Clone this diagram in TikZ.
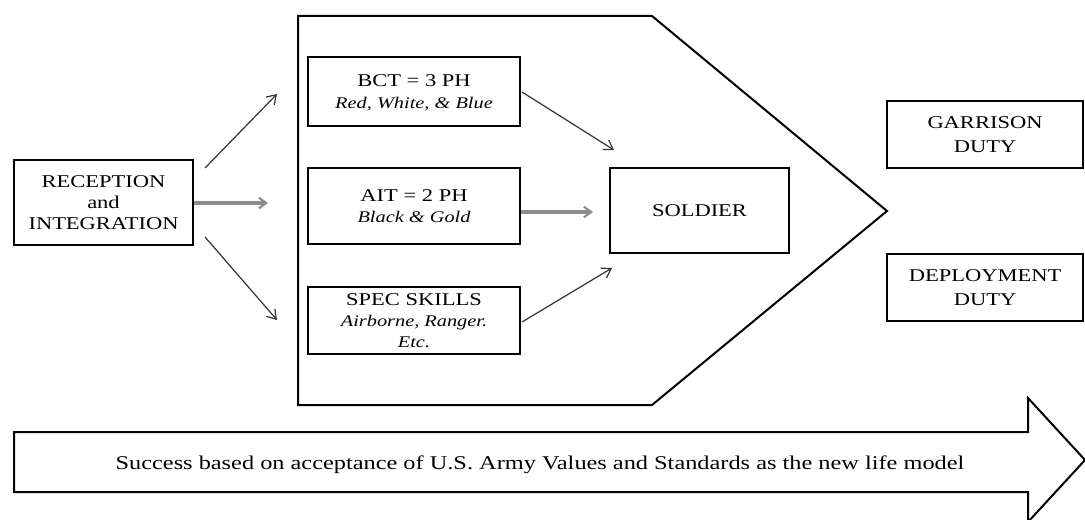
\documentclass[tikz,border=0pt]{standalone}
\usepackage{fontspec}
\setmainfont{Liberation Serif}[FakeStretch=1.25]
\usetikzlibrary{arrows.meta}
\begin{document}
\begin{tikzpicture}[x=0.75pt,y=-0.75pt,
  box/.style={draw=black,line width=1.5pt,fill=white,rectangle,align=center,inner sep=0pt,
              font=\fontsize{13.5}{16}\selectfont},
  thinarrow/.style={draw=black!80,line width=0.9pt,-{Straight Barb[length=6.5pt,width=8.5pt,line width=0.9pt]}},
  grayarrow/.style={draw=black!45,line width=2.4pt,-{Straight Barb[length=5.5pt,width=8pt,line width=1.6pt]}},
  outline/.style={draw=black,line width=1.5pt,line join=miter}
  ]
\useasboundingbox (0,0) rectangle (1085,520);
\clip (0,0) rectangle (1085,520);

% big pentagon
\draw[outline] (298,16) -- (652,16) -- (887,211) -- (652,405) -- (298,405) -- cycle;

% bottom big arrow
\draw[outline] (14,432) -- (1028,432) -- (1028,398) -- (1085,460) -- (1028,522) -- (1028,492) -- (14,492) -- cycle;
\node[font=\fontsize{14.6}{16}\selectfont,inner sep=0pt] (life) at (540,465)
  {Success based on acceptance of U.S. Army Values and Standards as the new life model};

% boxes
\node[box,minimum width=134.25pt,minimum height=63.75pt] (rec) at (103.5,202.5)
  {RECEPTION\\and\\INTEGRATION};
\node[box,minimum width=159pt,minimum height=51.75pt,text depth=-4pt] (bct) at (414,91.5)
  {BCT = 3 PH\\{\fontsize{12.2}{15.5}\selectfont\itshape Red, White, \& Blue}};
\node[box,minimum width=159pt,minimum height=57pt] (ait) at (414,206)
  {AIT = 2 PH\\{\fontsize{12.2}{15.5}\selectfont\itshape Black \& Gold}};
\node[box,minimum width=159pt,minimum height=50.25pt] (spec) at (414,320.5)
  {SPEC SKILLS\\{\fontsize{12.2}{15.5}\selectfont\itshape Airborne, Ranger.}\\{\fontsize{12.2}{15.5}\selectfont\itshape Etc.}};
\node[box,minimum width=134.25pt,minimum height=63.75pt] (sold) at (699.5,210.5) {SOLDIER};
\node[box,minimum width=147pt,minimum height=50.25pt,font=\fontsize{13.5}{18}\selectfont] (gar) at (985,134.5)
  {GARRISON\\DUTY};
\node[box,minimum width=147pt,minimum height=50.25pt,font=\fontsize{13.5}{17.5}\selectfont] (dep) at (985,287.5)
  {DEPLOYMENT\\DUTY};

% connector end points
\coordinate (r1s) at (205,168);
\coordinate (r1e) at (277,94);
\coordinate (r2e) at (268,203);
\coordinate (r3s) at (205,237);
\coordinate (r3e) at (277,320);
\coordinate (b1s) at (522,92);
\coordinate (b1e) at (614,150);
\coordinate (a1e) at (593,212);
\coordinate (s1s) at (522,322);
\coordinate (s1e) at (612,268);

% connectors
\draw[thinarrow] (r1s) -- (r1e);
\draw[grayarrow] (rec.east |- r2e) -- (r2e);
\draw[thinarrow] (r3s) -- (r3e);
\draw[thinarrow] (b1s) -- (b1e);
\draw[grayarrow] (ait.east |- a1e) -- (a1e);
\draw[thinarrow] (s1s) -- (s1e);
\end{tikzpicture}
\end{document}
